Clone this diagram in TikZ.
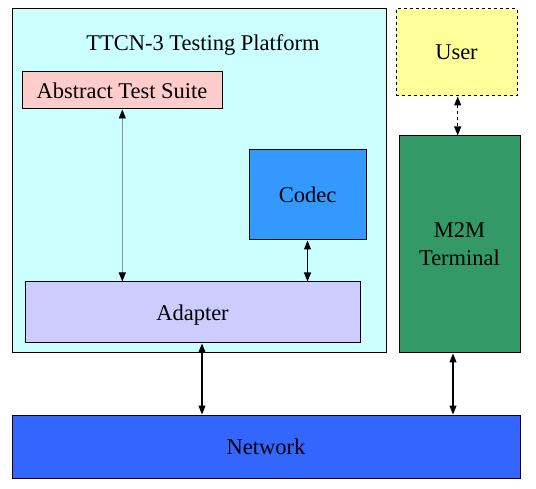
\documentclass[tikz,border=0pt]{standalone}
\usepackage{fontspec}
\setmainfont{Liberation Serif}
\usetikzlibrary{arrows.meta}
\definecolor{platfill}{HTML}{CCFFFF}
\definecolor{atsfill}{HTML}{FFCCCC}
\definecolor{codecfill}{HTML}{3399FF}
\definecolor{adaptfill}{HTML}{CCCCFF}
\definecolor{userfill}{HTML}{FFFF99}
\definecolor{m2mfill}{HTML}{339966}
\definecolor{netfill}{HTML}{3366FF}
\definecolor{thinline}{HTML}{7F9A9F}
\begin{document}
\begin{tikzpicture}[x=1pt,y=-1pt,
  every node/.style={font=\fontsize{22.5}{28}\selectfont},
  box/.style={draw=black,line width=1pt,inner sep=0pt,align=center,text depth=0pt},
  link/.style={line width=1.1pt,{Triangle[length=9pt,width=7pt]}-{Triangle[length=9pt,width=7pt]}},
  thinlink/.style={draw=thinline,line width=0.8pt,{Triangle[length=9pt,width=7pt,fill=black,color=black]}-{Triangle[length=9pt,width=7pt,fill=black,color=black]}}
]
\useasboundingbox (0,0) rectangle (536,489);
% platform
\node[box,fill=platfill,minimum width=374pt,minimum height=344pt] (plat) at (199,181) {};
\node (title) at (203,45.5) {TTCN-3 Testing Platform};
\node[box,fill=atsfill,minimum width=200pt,minimum height=37pt] (ats) at (122,90.5) {Abstract Test Suite};
\node[box,fill=codecfill,minimum width=117pt,minimum height=90pt] (codec) at (307.5,195) {Codec};
\node[box,fill=adaptfill,minimum width=335pt,minimum height=61pt] (adapter) at (192.5,312.5) {Adapter};
\node[box,fill=userfill,dashed,minimum width=121pt,minimum height=87pt] (user) at (456.5,52.5) {User};
\node[box,fill=m2mfill,minimum width=121pt,minimum height=217pt] (m2m) at (459.5,244.5) {M2M\\Terminal};
\node[box,fill=netfill,minimum width=508pt,minimum height=63pt] (net) at (266,446.5) {Network};
% connector coordinates
\coordinate (xa) at (122.3,0);
\coordinate (xb) at (202,0);
\coordinate (xu) at (457.7,0);
\coordinate (xm) at (453,0);
\draw[thinlink] (ats.south -| xa) -- (adapter.north -| xa);
\draw[link] (codec.south) -- (adapter.north -| codec.south);
\draw[link] (adapter.south -| xb) -- (net.north -| xb);
\draw[link,dashed] (user.south -| xu) -- (m2m.north -| xu);
\draw[link] (m2m.south -| xm) -- (net.north -| xm);
\end{tikzpicture}
\end{document}
